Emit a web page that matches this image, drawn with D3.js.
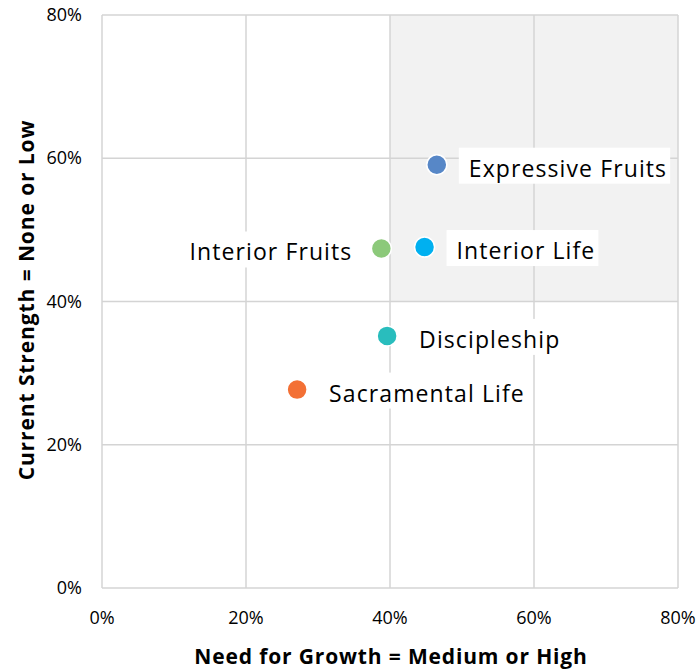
<!DOCTYPE html>
<html>
<head>
<meta charset="utf-8">
<script src="https://cdn.jsdelivr.net/npm/d3@7"></script>
<style>
  body { margin: 0; background: #fff; }
  svg text { font-family: "Open Sans", Lato, sans-serif; fill: #000; }
</style>
</head>
<body>
<script>
"use strict";
// values (fractions)
const names = ["Expressive Fruits", "Interior Life", "Interior Fruits", "Discipleship", "Sacramental Life"];
const needForGrowth = [0.465, 0.448, 0.388, 0.396, 0.271];
const currentStrength = [0.591, 0.476, 0.474, 0.352, 0.277];
const colors = ["#5787c7", "#00b0f0", "#8cc97a", "#29bdbd", "#f37035"];
const labelSide = ["right", "right", "left", "right", "right"];
const ticks = [0, 0.2, 0.4, 0.6, 0.8];

(function(){
    const size = { width: 699, height: 670, left: 102, top: 15, right: 678, bottom: 588 };

    const svg = d3.select("body").append("svg")
        .attr("width", size.width)
        .attr("height", size.height);

    const x = d3.scaleLinear().domain([0, 0.8]).range([size.left, size.right]);
    const y = d3.scaleLinear().domain([0, 0.8]).range([size.bottom, size.top]);

    // shaded quadrant
    svg.append("rect")
        .attr("x", x(0.4)).attr("y", y(0.8))
        .attr("width", x(0.8) - x(0.4))
        .attr("height", y(0.4) - y(0.8))
        .attr("fill", "#f2f2f2");

    // gridlines
    svg.append("g").selectAll("line.v")
        .data(ticks).enter().append("line")
        .attr("x1", d => x(d)).attr("x2", d => x(d))
        .attr("y1", y(0)).attr("y2", y(0.8))
        .attr("stroke", "#d4d4d4").attr("stroke-width", 1.5);
    svg.append("g").selectAll("line.h")
        .data(ticks).enter().append("line")
        .attr("y1", d => y(d)).attr("y2", d => y(d))
        .attr("x1", x(0)).attr("x2", x(0.8))
        .attr("stroke", "#d4d4d4").attr("stroke-width", 1.5);

    const pct = d3.format(".0%");

    // tick labels
    svg.append("g").selectAll("text")
        .data(ticks).enter().append("text")
        .attr("x", d => x(d)).attr("y", 624)
        .attr("text-anchor", "middle")
        .style("font-size", "18px")
        .text(pct);
    svg.append("g").selectAll("text")
        .data(ticks).enter().append("text")
        .attr("x", 82).attr("y", d => y(d) + 6)
        .attr("text-anchor", "end")
        .style("font-size", "18px")
        .text(pct);

    // axis titles
    svg.append("text")
        .attr("x", 391).attr("y", 664)
        .attr("text-anchor", "middle")
        .style("font-size", "21px").style("font-weight", "bold")
        .style("letter-spacing", "0.85px")
        .text("Need for Growth = Medium or High");
    svg.append("text")
        .attr("transform", "translate(34, 300)rotate(-90)")
        .attr("text-anchor", "middle")
        .style("font-size", "21px").style("font-weight", "bold")
        .style("letter-spacing", "0.9px")
        .text("Current Strength = None or Low");

    const pts = names.map((n, i) => ({
        name: n, gx: needForGrowth[i], cs: currentStrength[i], color: colors[i], side: labelSide[i]
    }));

    // labels with white boxes
    const lab = svg.append("g").selectAll("g")
        .data(pts).enter().append("g");
    const box = lab.append("rect").attr("fill", "#fff");
    const txt = lab.append("text")
        .attr("x", d => d.side === "right" ? x(d.gx) + 32 : x(d.gx) - 29)
        .attr("y", d => y(d.cs) + 12)
        .attr("text-anchor", d => d.side === "right" ? "start" : "end")
        .style("font-size", "23px")
        .style("letter-spacing", "1.1px")
        .text(d => d.name);
    txt.each(function(d) {
        const b = this.getBBox();
        const padL = d.side === "right" ? 10 : 4;
        const padR = d.side === "right" ? 3 : 10;
        d3.select(this.parentNode).select("rect")
            .attr("x", b.x - padL).attr("width", b.width + padL + padR)
            .attr("y", y(d.cs) - 17).attr("height", 36);
    });

    // points
    svg.append("g").selectAll("circle")
        .data(pts).enter().append("circle")
        .attr("cx", d => x(d.gx))
        .attr("cy", d => y(d.cs))
        .attr("r", 10)
        .attr("fill", d => d.color)
        .attr("stroke", "#fff")
        .attr("stroke-width", 1.5);
})();
</script>
</body>
</html>
